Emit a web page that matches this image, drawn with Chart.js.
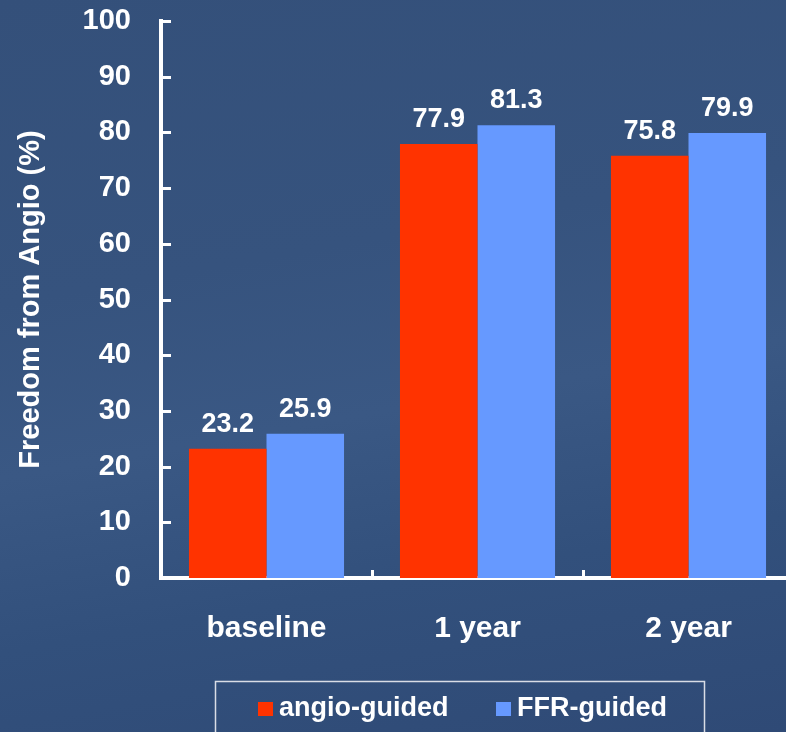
<!DOCTYPE html>
<html>
<head>
<meta charset="utf-8">
<title>Freedom from Angio</title>
<script src="https://cdn.jsdelivr.net/npm/chart.js@4"></script>
<style>
  html, body { margin: 0; padding: 0; overflow: hidden; }
  body {
    width: 786px; height: 732px;
    background: linear-gradient(170deg, #34507a 0%, #36537e 35%, #3a5884 55%, #32507c 75%, #2f4a76 100%);
  }
  canvas { display: block; }
</style>
</head>
<body>
<canvas id="freedomChart" width="800" height="732"></canvas>
<script>
// data
const categories = ['baseline', '1 year', '2 year'];
const angioGuided = [23.2, 77.9, 75.8];
const ffrGuided = [25.9, 81.3, 79.9];
const seriesNames = ['angio-guided', 'FFR-guided'];
const yTicks = [0, 10, 20, 30, 40, 50, 60, 70, 80, 90, 100];

const FONT = '"Liberation Sans", Arial, sans-serif';
const WHITE = '#ffffff';

// small tick marks pointing into the plot (y ticks right, category ticks up)
const innerTicks = {
  id: 'innerTicks',
  afterDraw(chart) {
    const { ctx, chartArea: a, scales: { x, y } } = chart;
    ctx.save();
    ctx.strokeStyle = WHITE;
    ctx.lineWidth = 3;
    ctx.beginPath();
    yTicks.forEach(v => {
      if (v === 0) return;
      const py = Math.round(y.getPixelForValue(v)) + 0.5;
      ctx.moveTo(a.left, py);
      ctx.lineTo(a.left + 10, py);
    });
    for (let i = 1; i < categories.length; i++) {
      const px = Math.round((x.getPixelForValue(i - 1) + x.getPixelForValue(i)) / 2) + 0.5;
      ctx.moveTo(px, a.bottom);
      ctx.lineTo(px, a.bottom - 8);
    }
    ctx.stroke();
    ctx.restore();
  }
};

// values written above each bar
const barValues = {
  id: 'barValues',
  afterDatasetsDraw(chart) {
    const { ctx } = chart;
    ctx.save();
    ctx.fillStyle = WHITE;
    ctx.font = 'bold 27px ' + FONT;
    ctx.textAlign = 'center';
    ctx.textBaseline = 'alphabetic';
    chart.data.datasets.forEach((ds, di) => {
      chart.getDatasetMeta(di).data.forEach((bar, i) => {
        ctx.fillText(ds.data[i].toFixed(1), bar.x, bar.y - 17);
      });
    });
    ctx.restore();
  }
};

// boxed legend at the bottom
const boxLegend = {
  id: 'boxLegend',
  afterDraw(chart) {
    const { ctx } = chart;
    ctx.save();
    ctx.strokeStyle = '#d9dde6';
    ctx.lineWidth = 1.5;
    ctx.strokeRect(215.5, 681.5, 489, 80);

    ctx.font = 'bold 27px ' + FONT;
    ctx.textBaseline = 'alphabetic';
    ctx.textAlign = 'left';
    const starts = [258, 496];
    chart.data.datasets.forEach((ds, di) => {
      const sx = starts[di];
      ctx.fillStyle = ds.backgroundColor;
      ctx.fillRect(sx, 702, 15, 14);
      ctx.fillStyle = WHITE;
      ctx.fillText(ds.label, sx + 21, 716);
    });
    ctx.restore();
  }
};

new Chart(document.getElementById('freedomChart'), {
  type: 'bar',
  data: {
    labels: categories,
    datasets: [
      { label: seriesNames[0], data: angioGuided, backgroundColor: '#ff3300', borderWidth: 0 },
      { label: seriesNames[1], data: ffrGuided, backgroundColor: '#6699ff', borderWidth: 0 }
    ]
  },
  options: {
    responsive: false,
    devicePixelRatio: 1,
    animation: false,
    layout: { padding: { top: 21, right: 6, left: 0, bottom: 0 } },
    categoryPercentage: 0.735,
    barPercentage: 1,
    plugins: {
      legend: { display: false },
      tooltip: { enabled: false }
    },
    scales: {
      x: {
        grid: { display: false, drawTicks: false },
        border: { display: true, color: WHITE, width: 4 },
        ticks: {
          color: WHITE,
          font: { family: FONT, size: 30, weight: 'bold' },
          padding: 33
        },
        afterFit(scale) { scale.height = 154; scale.paddingLeft = 0; scale.paddingRight = 0; }
      },
      y: {
        min: 0,
        max: 100,
        grid: { display: false, drawTicks: false },
        border: { display: true, color: WHITE, width: 4 },
        ticks: {
          stepSize: 10,
          color: WHITE,
          font: { family: FONT, size: 29, weight: 'bold' },
          padding: 30
        },
        title: {
          display: true,
          text: 'Freedom from Angio (%)',
          color: WHITE,
          font: { family: FONT, size: 29, weight: 'bold' },
          padding: { top: 14, bottom: 0 }
        },
        afterFit(scale) { scale.width = 161; scale.paddingTop = 0; scale.paddingBottom = 0; }
      }
    }
  },
  plugins: [innerTicks, barValues, boxLegend]
});
</script>
</body>
</html>
